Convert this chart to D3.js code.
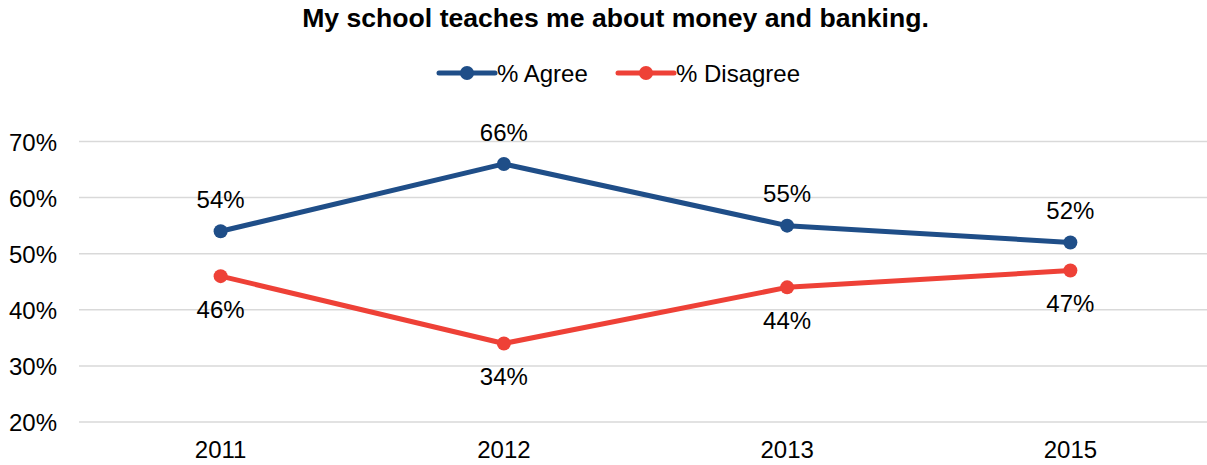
<!DOCTYPE html>
<html>
<head>
<meta charset="utf-8">
<script src="https://cdn.jsdelivr.net/npm/d3@7"></script>
<style>
  html, body { margin: 0; padding: 0; background: #fff; }
  svg { display: block; font-family: "Liberation Sans", Arial, sans-serif; }
</style>
</head>
<body>
<svg id="chart" width="1207" height="465"></svg>
<script>
const years = ["2011", "2012", "2013", "2015"];
const agree = [54, 66, 55, 52];
const disagree = [46, 34, 44, 47];
const yTicks = [20, 30, 40, 50, 60, 70];
const seriesNames = ["% Agree", "% Disagree"];
const seriesColors = ["#1F4E88", "#EE4137"];

const svg = d3.select("#chart");
const W = 1207, H = 465;
const FS = 24;

const x = d3.scaleBand().domain(years).range([79, 1212]);
const y = d3.scaleLinear().domain([20, 70]).range([422, 141.5]);

// title
svg.append("text")
  .attr("x", 615.5).attr("y", 27)
  .attr("text-anchor", "middle")
  .attr("font-weight", "bold")
  .attr("font-size", 26.6)
  .attr("fill", "#000")
  .text("My school teaches me about money and banking.");

// gridlines
svg.append("g")
  .selectAll("line")
  .data(yTicks)
  .join("line")
  .attr("x1", 79).attr("x2", W)
  .attr("y1", d => y(d)).attr("y2", d => y(d))
  .attr("stroke", "#D9D9D9")
  .attr("stroke-width", 1.5);

// y axis labels
const yAxis = d3.axisLeft(y).tickValues(yTicks).tickFormat(d => d + "%").tickSize(0).tickPadding(0);
svg.append("g")
  .attr("transform", "translate(57,0)")
  .call(yAxis)
  .call(g => g.select(".domain").remove())
  .call(g => g.selectAll("text")
    .attr("font-size", FS)
    .attr("font-family", "Liberation Sans, Arial, sans-serif")
    .attr("fill", "#000")
    .attr("dy", "0.36em"));

// x axis labels
const xAxis = d3.axisBottom(x).tickSize(0).tickPadding(0);
svg.append("g")
  .attr("transform", "translate(0,440)")
  .call(xAxis)
  .call(g => g.select(".domain").remove())
  .call(g => g.selectAll("text")
    .attr("font-size", FS)
    .attr("font-family", "Liberation Sans, Arial, sans-serif")
    .attr("fill", "#000")
    .attr("dy", "0.75em"));

const cx = d => x(d) + x.bandwidth() / 2;
const line = d3.line().x(d => cx(d.year)).y(d => y(d.value));

const series = [agree, disagree].map((vals, i) => ({
  name: seriesNames[i],
  color: seriesColors[i],
  above: i === 0,
  points: years.map((yr, j) => ({ year: yr, value: vals[j] }))
}));

series.forEach(s => {
  svg.append("path")
    .datum(s.points)
    .attr("d", line)
    .attr("fill", "none")
    .attr("stroke", s.color)
    .attr("stroke-width", 5)
    .attr("stroke-linejoin", "round");

  svg.append("g").selectAll("circle")
    .data(s.points)
    .join("circle")
    .attr("cx", d => cx(d.year))
    .attr("cy", d => y(d.value))
    .attr("r", 7)
    .attr("fill", s.color);

  svg.append("g").selectAll("text")
    .data(s.points)
    .join("text")
    .attr("x", d => cx(d.year))
    .attr("y", d => y(d.value) + (s.above ? -32 : 33))
    .attr("dy", "0.36em")
    .attr("text-anchor", "middle")
    .attr("font-size", FS)
    .attr("fill", "#000")
    .text(d => d.value + "%");
});

// legend
const legendItems = [
  { x: 439, name: seriesNames[0], color: seriesColors[0] },
  { x: 618, name: seriesNames[1], color: seriesColors[1] }
];
const lg = svg.append("g");
legendItems.forEach(it => {
  lg.append("line")
    .attr("x1", it.x).attr("x2", it.x + 56)
    .attr("y1", 73).attr("y2", 73)
    .attr("stroke", it.color).attr("stroke-width", 5)
    .attr("stroke-linecap", "round");
  lg.append("circle")
    .attr("cx", it.x + 28).attr("cy", 73).attr("r", 7)
    .attr("fill", it.color);
  lg.append("text")
    .attr("x", it.x + 58).attr("y", 73)
    .attr("dy", "0.36em")
    .attr("font-size", FS)
    .attr("fill", "#000")
    .text(it.name);
});
</script>
</body>
</html>
